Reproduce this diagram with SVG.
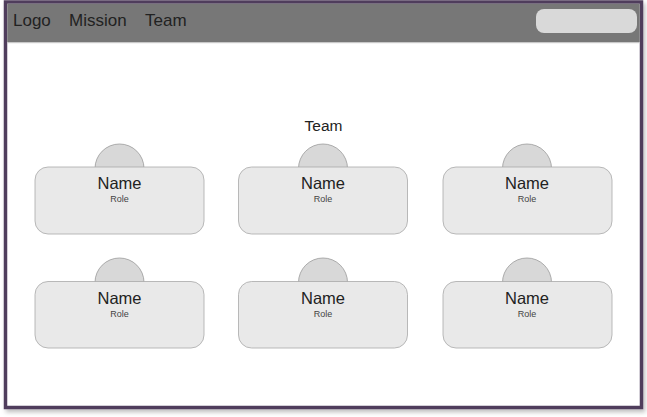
<svg xmlns="http://www.w3.org/2000/svg" width="647" height="417" viewBox="0 0 647 417">
<defs>
<filter id="sh" x="-5%" y="-5%" width="110%" height="110%">
<feDropShadow dx="2" dy="3" stdDeviation="2" flood-color="#000" flood-opacity="0.25"/>
</filter>
<style>
.card{fill:#e9e9e9;stroke:#a8a8a8;stroke-width:0.8}
.head{fill:#d8d8d8;stroke:#9a9a9a;stroke-width:0.8}
.name{font-family:"Liberation Sans",Arial,sans-serif;font-size:16.5px;fill:#222;text-anchor:middle}
.role{font-family:"Liberation Sans",Arial,sans-serif;font-size:9px;fill:#444;text-anchor:middle}
.nav{font-family:"Liberation Sans",Arial,sans-serif;font-size:17px;fill:#222}
</style>
</defs>
<rect x="0" y="0" width="647" height="417" fill="#ffffff"/>
<g id="frame">
<rect x="5.5" y="2" width="636" height="405.5" fill="#ffffff" stroke="#4f3c5c" stroke-width="3.5" filter="url(#sh)"/>
</g>
<g id="header">
<rect x="7.25" y="3.75" width="632.5" height="38.5" fill="#777777"/>
<rect x="7.25" y="42" width="632.5" height="1.2" fill="#c8c8c8"/>
<text class="nav" x="13" y="25.5">Logo</text>
<text class="nav" x="69" y="25.5">Mission</text>
<text class="nav" x="145" y="25.5">Team</text>
<rect id="search" x="536" y="9" width="101" height="24" rx="8" fill="#d9d9d9"/>
</g>
<text id="title" x="323.5" y="131" font-family="Liberation Sans,Arial,sans-serif" font-size="15.5" fill="#222" text-anchor="middle">Team</text>
<g id="member1">
<circle class="head" cx="119.5" cy="168.5" r="24.5"/>
<rect class="card" x="35" y="167" width="169" height="67" rx="13"/>
<text class="name" x="119.5" y="189">Name</text>
<text class="role" x="119.5" y="202">Role</text>
</g>
<g id="member2">
<circle class="head" cx="323" cy="168.5" r="24.5"/>
<rect class="card" x="238.5" y="167" width="169" height="67" rx="13"/>
<text class="name" x="323" y="189">Name</text>
<text class="role" x="323" y="202">Role</text>
</g>
<g id="member3">
<circle class="head" cx="527" cy="168.5" r="24.5"/>
<rect class="card" x="443" y="167" width="169" height="67" rx="13"/>
<text class="name" x="527" y="189">Name</text>
<text class="role" x="527" y="202">Role</text>
</g>
<g id="member4">
<circle class="head" cx="119.5" cy="282.5" r="24.5"/>
<rect class="card" x="35" y="281.5" width="169" height="66.5" rx="13"/>
<text class="name" x="119.5" y="303.5">Name</text>
<text class="role" x="119.5" y="316.5">Role</text>
</g>
<g id="member5">
<circle class="head" cx="323" cy="282.5" r="24.5"/>
<rect class="card" x="238.5" y="281.5" width="169" height="66.5" rx="13"/>
<text class="name" x="323" y="303.5">Name</text>
<text class="role" x="323" y="316.5">Role</text>
</g>
<g id="member6">
<circle class="head" cx="527" cy="282.5" r="24.5"/>
<rect class="card" x="443" y="281.5" width="169" height="66.5" rx="13"/>
<text class="name" x="527" y="303.5">Name</text>
<text class="role" x="527" y="316.5">Role</text>
</g>
<g id="connectors"/>
</svg>
